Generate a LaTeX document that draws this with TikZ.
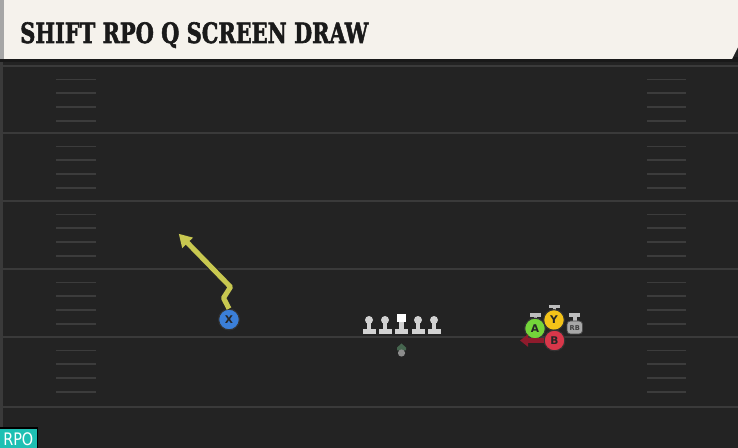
\documentclass[tikz,border=0pt]{standalone}
\usepackage{fontspec}
\usetikzlibrary{arrows.meta}
\newfontfamily\titlefont[BoldFeatures={FakeBold=2.2}]{DejaVu Serif}
\newfontfamily\labfont{DejaVu Sans}
\definecolor{fieldbg}{HTML}{232323}
\definecolor{yardline}{HTML}{3A3A3A}
\definecolor{hashc}{HTML}{3C3C3C}
\definecolor{panelbg}{HTML}{F5F2EC}
\definecolor{titlec}{HTML}{1A1A1A}
\definecolor{tealc}{HTML}{1EC0B3}
\definecolor{linec}{HTML}{D2D2D2}
\definecolor{routec}{HTML}{C8C850}
\definecolor{xblue}{HTML}{3B7FD8}
\definecolor{agreen}{HTML}{74D43A}
\definecolor{yyellow}{HTML}{F4C318}
\definecolor{bred}{HTML}{D8374A}
\definecolor{arrowred}{HTML}{8E1B2C}
\definecolor{qbgreen}{HTML}{46664F}
\definecolor{qbgray}{HTML}{8C8C8C}
\definecolor{rbgray}{HTML}{A8A8A8}
\tikzset{
  yard/.style={draw=yardline, line width=1.6},
  hashmark/.style={draw=hashc, line width=1.3},
  lineman/.style={fill=linec},
  btn/.style={circle, minimum size=15.5, inner sep=0pt, draw=black!80, line width=0.8,
    font=\labfont\bfseries\fontsize{8}{8}\selectfont, text=black!85},
  tbar/.style={fill=linec!90!black},
}
\begin{document}
\begin{tikzpicture}[x=0.75pt,y=-0.75pt]
\useasboundingbox (0,0) rectangle (738,448);
% field
\fill[fieldbg] (0,0) rectangle (738,448);
\draw[yardline, line width=1.5] (1.5,62) -- (1.5,448);
% yard lines
\foreach \y in {66,133,201,269,337,407} {
  \draw[yard] (3,\y) -- (738,\y);
}
% hash marks
\foreach \y in {66,133,201,269,337} {
  \foreach \d in {13.5,27,41,55} {
    \draw[hashmark] (56,\y+\d) -- (96,\y+\d);
    \draw[hashmark] (647,\y+\d) -- (686,\y+\d);
  }
}
% header panel
\fill[black!90] (0,57) rectangle (738,62);
\fill[panelbg] (4,0) -- (738,0) -- (738,47) -- (732,59) -- (4,59) -- cycle;
\fill[black!35] (0,0) rectangle (4,59);
\node[anchor=base west, inner sep=0pt, text=titlec] (title) at (20,43)
  {\resizebox{261pt}{15.6pt}{\titlefont\bfseries SHIFT RPO Q SCREEN DRAW}};
% RPO label
\fill[black] (0,427) rectangle (38,448);
\fill[tealc] (0,428.5) rectangle (37,448);
\node[anchor=base west, inner sep=0pt, text=white] (rpo) at (3,445)
  {\resizebox{22.5pt}{9.6pt}{\labfont RPO}};
% offensive line
\foreach \x/\n in {369/lt,385/lg,418/rg,434/rt} {
  \fill[lineman] (\x,320) circle (4);
  \fill[lineman] (\x-2.2,322) rectangle (\x+2.2,330);
  \fill[lineman] (\x-6.5,329.5) rectangle (\x+6.5,334);
  \coordinate (\n) at (\x,326);
}
% center
\fill[white] (397,314) rectangle (406,322.5);
\fill[lineman] (399.3,322.5) rectangle (403.7,330);
\fill[lineman] (395,329.5) rectangle (408,334);
\coordinate (c) at (401.5,324);
% QB
\fill[qbgreen] (397,350.5) -- (397,347.5) -- (401.5,343.5) -- (406,347.5) -- (406,350.5) -- cycle;
\fill[qbgray] (401.5,353) circle (3.6);
\coordinate (qb) at (401.5,350);
% X receiver and route
\node[btn, fill=xblue] (X) at (229,319.5) {X};
\coordinate (r1) at (223.5,298);
\coordinate (r2) at (230.5,287);
\coordinate (r3) at (178,233);
\draw[black!85, line width=5.4, line join=round, -{Triangle[length=11,width=13]}]
  (X.north) -- (r1) -- (r2) -- (r3);
\draw[routec, line width=3.8, line join=round, shorten >=0.8, -{Triangle[length=9.5,width=10.5]}]
  (X.north) -- (r1) -- (r2) -- (r3);
% T bars above A and Y
\fill[tbar] (530,313.5) rectangle (540.5,317);
\fill[tbar] (533.5,317) rectangle (537,322);
\fill[tbar] (549,305) rectangle (559.5,308.5);
\fill[tbar] (552.5,308.5) rectangle (556,313);
% RB
\fill[tbar] (569,313.5) rectangle (580,317);
\fill[tbar] (572.5,317) rectangle (576.5,322);
\fill[rbgray, draw=black!70, line width=0.6, rounded corners=2.5] (567,321) rectangle (582.5,334);
\node[inner sep=0pt, font=\labfont\bfseries\fontsize{5}{5}\selectfont, text=black!75] (rb) at (574.8,328.5) {RB};
% A, Y, B
\node[btn, fill=agreen] (A) at (535,328.5) {A};
\node[btn, fill=yyellow] (Y) at (554,320) {Y};
\node[btn, fill=bred] (B) at (554.5,340.5) {B};
\coordinate (bend) at (520,340.5);
\draw[arrowred, line width=3.6, -{Triangle[length=6,width=9]}] (B.west) -- (bend);
\end{tikzpicture}
\end{document}
